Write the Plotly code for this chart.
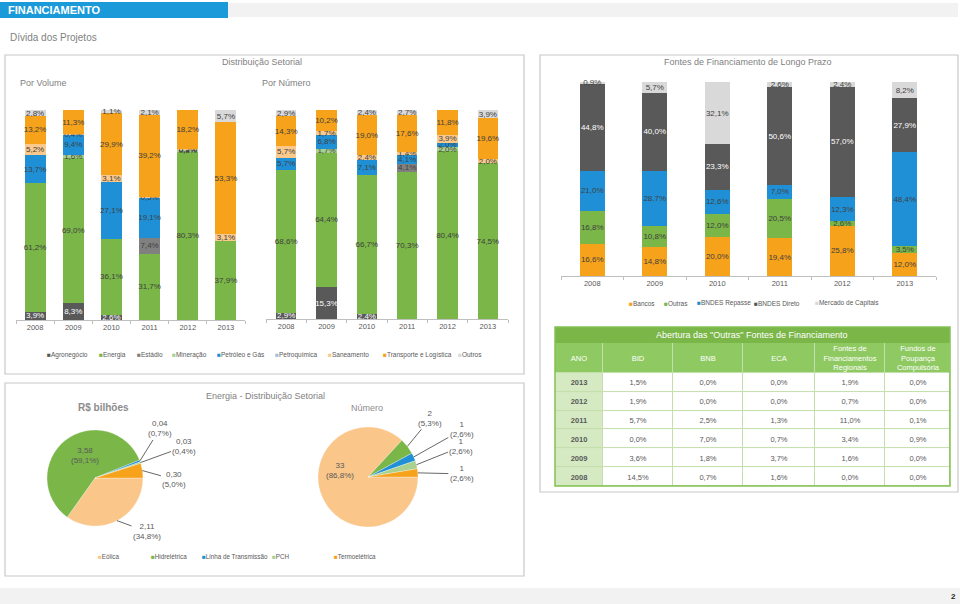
import math
import plotly.graph_objects as go

W, H = 960, 604
def X(px): return px / W
def Y(py): return 1 - py / H

FONT = "Liberation Sans, Arial, sans-serif"
NARROW = "Liberation Sans Narrow, Liberation Sans, Arial, sans-serif"
GRAY_TXT = "#7f7f7f"
LBL = "#404040"

# ---------------- DATA ----------------
years = ["2008", "2009", "2010", "2011", "2012", "2013"]

setores = ["Agronegócio", "Energia", "Estádio", "Mineração", "Petróleo e Gás",
           "Petroquímica", "Saneamento", "Transporte e Logística", "Outros"]
cores_setores = ["#595959", "#7ab648", "#808080", "#a9d08e", "#1f90d6",
                 "#9dc3e6", "#fbc98c", "#f7a21b", "#d9d9d9"]

# Por Volume (%)
vol_agro = [3.9, 8.3, 2.6, 0, 0, 0]
vol_energia = [61.2, 69.0, 36.1, 31.7, 80.3, 37.9]
vol_estadio = [0, 0, 0, 7.4, 0, 0]
vol_mineracao = [0, 1.6, 0, 0, 0.8, 0]
vol_petroleo = [13.7, 9.4, 27.1, 19.1, 0.1, 0]
vol_petroquimica = [0, 0, 0, 0, 0, 0]
vol_saneamento = [5.2, 0.4, 3.1, 0.5, 0.5, 3.1]
vol_transporte = [13.2, 11.3, 29.9, 39.2, 18.2, 53.3]
vol_outros = [2.8, 0, 1.1, 2.1, 0, 5.7]

# Por Número (%)
num_agro = [2.9, 15.3, 2.4, 0, 0, 0]
num_energia = [68.6, 64.4, 66.7, 70.3, 80.4, 74.5]
num_estadio = [0, 0, 0, 4.1, 0, 0]
num_mineracao = [0, 1.7, 0, 0, 2.0, 0]
num_petroleo = [5.7, 6.8, 7.1, 4.1, 2.0, 0]
num_petroquimica = [0, 0, 0, 0, 0, 0]
num_saneamento = [5.7, 1.7, 2.4, 1.4, 3.9, 2.0]
num_transporte = [14.3, 10.2, 19.0, 17.6, 11.8, 19.6]
num_outros = [2.9, 0, 2.4, 2.7, 0, 3.9]

# Fontes de Financiamento de Longo Prazo (%)
fontes = ["Bancos", "Outras", "BNDES Repasse", "BNDES Direto", "Mercado de Capitais"]
cores_fontes = ["#f7a21b", "#7ab648", "#1f90d6", "#595959", "#d9d9d9"]
f_bancos = [16.6, 14.8, 20.0, 19.4, 25.8, 12.0]
f_outras = [16.8, 10.8, 12.0, 20.5, 2.6, 3.5]
f_repasse = [21.0, 28.7, 12.6, 7.0, 12.3, 48.4]
f_direto = [44.8, 40.0, 23.3, 50.6, 57.0, 27.9]
f_mercado = [0.9, 5.7, 32.1, 2.6, 2.4, 8.2]

# Tabela "Outras"
tab_anos = ["2013", "2012", "2011", "2010", "2009", "2008"]
tab_bid = [1.5, 1.9, 5.7, 0.0, 3.6, 14.5]
tab_bnb = [0.0, 0.0, 2.5, 7.0, 1.8, 0.7]
tab_eca = [0.0, 0.0, 1.3, 0.7, 3.7, 1.6]
tab_regionais = [1.9, 0.7, 11.0, 3.4, 1.6, 0.0]
tab_poupanca = [0.0, 0.0, 0.1, 0.9, 0.0, 0.0]
tab_header = ["ANO", "BID", "BNB", "ECA", "Fontes de<br>Financiamentos<br>Regionais",
              "Fundos de<br>Poupança<br>Compulsória"]

# Energia - pies
energia_cat = ["Eólica", "Hidrelétrica", "Linha de Transmissão", "PCH", "Termoelétrica"]
cores_energia = ["#fac68a", "#7ab648", "#1f90d6", "#a9d08e", "#f7a21b"]
pie_vol = [2.11, 3.58, 0.04, 0.03, 0.30]
pie_vol_pct = [34.8, 59.1, 0.7, 0.4, 5.0]
pie_num = [33, 2, 1, 1, 1]
pie_num_pct = [86.8, 5.3, 2.6, 2.6, 2.6]


def pct(v):
    return f"{v:.1f}%".replace(".", ",")


def lbls(vals):
    return [pct(v) if v > 0 else "" for v in vals]


fig = go.Figure()

# ---------------- stacked bars ----------------
vol_series = [vol_agro, vol_energia, vol_estadio, vol_mineracao, vol_petroleo,
              vol_petroquimica, vol_saneamento, vol_transporte, vol_outros]
num_series = [num_agro, num_energia, num_estadio, num_mineracao, num_petroleo,
              num_petroquimica, num_saneamento, num_transporte, num_outros]
dark = {"Agronegócio", "BNDES Direto"}

def add_bars(names, colors, series, xa, ya, wid):
    for name, color, vals in zip(names, colors, series):
        fig.add_trace(go.Bar(
            x=years, y=vals, name=name, marker=dict(color=color, line=dict(width=0)),
            text=lbls(vals), textposition="inside", insidetextanchor="middle",
            constraintext="none", textangle=0, cliponaxis=False,
            textfont=dict(size=8, color="white" if name in dark else LBL, family=FONT),
            width=wid, xaxis=xa, yaxis=ya, showlegend=False, hoverinfo="skip"))

add_bars(setores, cores_setores, vol_series, "x", "y", 0.55)
add_bars(setores, cores_setores, num_series, "x2", "y2", 0.5)
add_bars(fontes, cores_fontes, [f_bancos, f_outras, f_repasse, f_direto, f_mercado],
         "x3", "y3", 0.4)

# ---------------- pies ----------------
PIE1 = (95, 478, 48)
PIE2 = (368, 477, 50)
for vals, (cx, cy, r) in [(pie_vol, PIE1), (pie_num, PIE2)]:
    fig.add_trace(go.Pie(
        values=vals, labels=energia_cat, sort=False, direction="clockwise", rotation=90,
        marker=dict(colors=cores_energia, line=dict(color="white", width=0.3)),
        textinfo="none", showlegend=False, hoverinfo="label+value",
        domain=dict(x=[X(cx - r), X(cx + r)], y=[Y(cy + r), Y(cy - r)])))

# ---------------- table (heatmap cells on their own axes) ----------------
col_w = [48, 70, 70, 72, 70, 65]
x_edges = [0]
for w in col_w:
    x_edges.append(x_edges[-1] + w)
HEAD_H, ROW_H = 30, 18.8
body_edges = [HEAD_H + ROW_H * i for i in range(len(tab_anos) + 1)]
TAB_CS = [[0, "#d5e9c2"], [0.5, "#ffffff"], [1, "#8fc962"]]

fig.add_trace(go.Heatmap(
    x=x_edges, y=[0, HEAD_H], z=[[2] * 6], text=[tab_header], texttemplate="%{text}",
    textfont=dict(size=7.5, color="white", family=FONT),
    colorscale=TAB_CS, zmin=0, zmax=2, showscale=False, xgap=1, ygap=1,
    hoverinfo="skip", xaxis="x4", yaxis="y4"))

body_text = [[f"<b>{a}</b>", pct(b), pct(c), pct(d), pct(e), pct(f)]
             for a, b, c, d, e, f in zip(tab_anos, tab_bid, tab_bnb, tab_eca,
                                         tab_regionais, tab_poupanca)]
fig.add_trace(go.Heatmap(
    x=x_edges, y=body_edges, z=[[0, 1, 1, 1, 1, 1] for _ in tab_anos], text=body_text,
    texttemplate="%{text}", textfont=dict(size=7.5, color="#595959", family=FONT),
    colorscale=TAB_CS, zmin=0, zmax=2, showscale=False, xgap=1, ygap=1,
    hoverinfo="skip", xaxis="x4", yaxis="y4"))

# ---------------- axes ----------------
def xax(d0, d1, anchor):
    return dict(domain=[X(d0), X(d1)], anchor=anchor, type="category", showline=True,
                linecolor="#bfbfbf", linewidth=1, ticks="outside", tickson="boundaries",
                ticklen=3, tickcolor="#bfbfbf", showgrid=False, zeroline=False,
                tickfont=dict(size=7.5, color="#595959", family=FONT), fixedrange=True)

def yax(b, t, anchor):
    return dict(domain=[Y(b), Y(t)], anchor=anchor, range=[0, 100.6], visible=False,
                fixedrange=True)

fig.update_layout(
    xaxis=xax(16, 245, "y"), yaxis=yax(320, 109, "x"),
    xaxis2=xax(266, 508, "y2"), yaxis2=yax(319, 109, "x2"),
    xaxis3=xax(561, 936, "y3"), yaxis3=yax(276, 81, "x3"),
    xaxis4=dict(domain=[X(555), X(950)], anchor="y4", range=[0, x_edges[-1]],
                visible=False, fixedrange=True),
    yaxis4=dict(domain=[Y(486), Y(343)], anchor="x4", range=[body_edges[-1], 0],
                visible=False, fixedrange=True),
)

# ---------------- shapes ----------------
shapes = []
def rect(x0, y0, x1, y1, fill=None, line=None, lw=1, layer="below"):
    shapes.append(dict(type="rect", xref="paper", yref="paper", x0=X(x0), x1=X(x1),
                       y0=Y(y1), y1=Y(y0), fillcolor=fill or "rgba(0,0,0,0)",
                       line=dict(color=line or "rgba(0,0,0,0)", width=lw if line else 0),
                       layer=layer))

rect(228, 3, 958, 17, fill="#f2f2f2")
rect(0, 2, 228, 18, fill="#1a9ad8")
rect(5, 55, 524, 374, line="#c8c8c8", lw=1.2)
rect(540, 55, 958, 492, line="#c8c8c8", lw=1.2)
rect(5, 383, 524, 576, line="#c8c8c8", lw=1.2)
rect(0, 588, 960, 604, fill="#f2f2f2")
rect(555, 343, 950, 486, fill="#c3dfab")
rect(555, 327, 950, 343, fill="#7ab648")
rect(555, 327, 950, 486, line="#84c152", lw=1.5, layer="above")
fig.update_layout(shapes=shapes)

# ---------------- annotations ----------------
ann = []
def txt(x, y, s, size=9, color=GRAY_TXT, xanchor="center", family=FONT, **kw):
    ann.append(dict(x=X(x), y=Y(y), xref="paper", yref="paper", text=s, showarrow=False,
                    xanchor=xanchor, yanchor="middle",
                    font=dict(size=size, color=color, family=family), **kw))

txt(6, 10, "<b>FINANCIAMENTO</b>", size=11, color="white", xanchor="left", family=NARROW)
txt(953, 596, "<b>2</b>", size=8, color="#262626")
txt(8, 38, "Dívida dos Projetos", size=10, color=GRAY_TXT, xanchor="left", family=NARROW)
txt(262, 62, "Distribuição Setorial", size=9, family=NARROW)
txt(18, 83, "Por Volume", size=9, xanchor="left", family=NARROW)
txt(260, 83, "Por Número", size=9, xanchor="left", family=NARROW)
txt(748, 62, "Fontes de Financiamento de Longo Prazo", size=9, family=NARROW)
txt(752, 335, "Abertura das \"Outras\" Fontes de Financiamento", size=9, color="white")
txt(265, 396, "Energia - Distribuição Setorial", size=9)
txt(103, 407, "<b>R$ bilhões</b>", size=10, color="#8c8c8c")
txt(367, 408, "Número", size=9, color="#8c8c8c")

# legends (manual)
def legend(items, colors, xs, y, size=6.5):
    for name, c, x in zip(items, colors, xs):
        txt(x, y, f"<span style='color:{c}'>■</span>{name}", size=size, color="#595959",
            xanchor="left")

legend(setores, cores_setores, [45, 97, 135, 170, 215, 273, 326, 381, 456], 355)
legend(fontes, cores_fontes, [627, 662, 695, 752, 813], 303)
legend(energia_cat, cores_energia, [96, 149, 200, 270, 332], 556, size=6.3)

# pie labels
def tips(vals, cx, cy, r):
    tot = sum(vals)
    out, cum = [], 0
    for v in vals:
        a = math.radians((cum + v / 2) / tot * 360)
        cum += v
        out.append((cx + r * math.cos(a), cy + r * math.sin(a)))
    return out

def num2(v, dec):
    return f"{v:.{dec}f}".replace(".", ",")

def pie_labels(vals, pcts, geom, dec, inside_idx, inside_pos, offsets):
    cx, cy, r = geom
    tp = tips(vals, cx, cy, r)
    for i, (v, p) in enumerate(zip(vals, pcts)):
        s = f"{num2(v, dec)}<br>({pct(p)})"
        if i == inside_idx:
            txt(inside_pos[0], inside_pos[1], s, size=8, color="#595959")
        else:
            ax, ay = offsets[i]
            ann.append(dict(x=X(tp[i][0]), y=Y(tp[i][1]), xref="paper", yref="paper",
                            text=s, showarrow=True, arrowhead=0, arrowwidth=0.8,
                            arrowcolor="#404040", ax=ax, ay=ay, standoff=0,
                            font=dict(size=8, color="#595959", family=FONT)))

pie_labels(pie_vol, pie_vol_pct, PIE1, 2, 1, (85, 455),
           {0: (30, 11), 2: (20, -32), 3: (44, -16), 4: (32, 9)})
pie_labels(pie_num, pie_num_pct, PIE2, 0, 0, (340, 470),
           {1: (23, -28), 2: (48, -27), 3: (45, -18), 4: (44, 1)})

fig.update_layout(
    annotations=ann,
    width=W, height=H, autosize=False,
    margin=dict(l=0, r=0, t=0, b=0),
    paper_bgcolor="white", plot_bgcolor="white",
    barmode="stack",
    uniformtext=dict(minsize=8, mode="show"),
    font=dict(family=FONT, color="#595959"),
    showlegend=False,
)

fig.write_html("out.html",
               config={"displayModeBar": False},
               post_script="document.body.style.margin='0px';"
                           "document.body.style.overflow='hidden';")
